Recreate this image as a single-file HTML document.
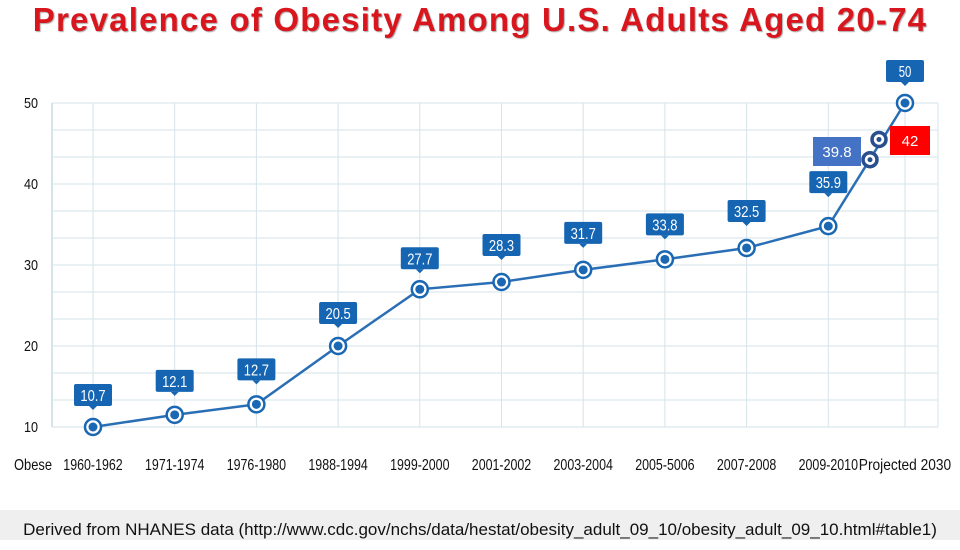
<!DOCTYPE html>
<html><head><meta charset="utf-8"><style>
body{margin:0;width:960px;height:540px;background:#fff;overflow:hidden;font-family:"Liberation Sans",sans-serif;position:relative}
#title{position:absolute;left:0;top:1px;width:960px;text-align:center;font-size:33px;letter-spacing:1.2px;font-weight:bold;color:#d9161d;text-shadow:1px 1px 1px #aaa}
#footer{position:absolute;left:0;top:510px;width:960px;height:30px;background:#efefef;text-align:center;font-size:17px;line-height:40px;color:#111}
svg{position:absolute;left:0;top:0}
</style></head><body>
<div id="title">Prevalence of Obesity Among U.S. Adults Aged 20-74</div>
<svg id="chart" width="960" height="540"></svg>
<div id="footer">Derived from NHANES data (http://www.cdc.gov/nchs/data/hestat/obesity_adult_09_10/obesity_adult_09_10.html#table1)</div>
<script>
const categories=["1960-1962","1971-1974","1976-1980","1988-1994","1999-2000","2001-2002","2003-2004","2005-5006","2007-2008","2009-2010","Projected 2030"];
const values=[10.0,11.5,12.8,20.0,27.0,27.9,29.4,30.7,32.1,34.8,50.0];
const labels=["10.7","12.1","12.7","20.5","27.7","28.3","31.7","33.8","32.5","35.9","50"];
const yTicks=[10,20,30,40,50];
const extraValues=[43.0,45.5];
const extraLabels=["39.8","42"];
const labelLift=[32,34,35,33,31,37,37,35,37,44,32];
const NS="http://www.w3.org/2000/svg";
const svg=document.getElementById('chart');
const x0=52,x1=938,y0=427,y1=103;
const colX=i=>i<10?93+i*81.7:905;
const Y=v=>y0-(v-10)/40*(y0-y1);
function mk(t,a,p){const e=document.createElementNS(NS,t);for(const k in a)e.setAttribute(k,a[k]);(p||svg).appendChild(e);return e;}
function condensed(s){return s.length*6.6;}
for(let v=10;v<=50.01;v+=10/3){const g=mk('line',{x1:x0,x2:x1,y1:Y(v),y2:Y(v),stroke:'#d5e3ea','stroke-width':1});

}
const gl=[x0,...categories.map((c,i)=>colX(i)),x1];
gl.forEach(x=>{const g=mk('line',{x1:x,x2:x,y1:y1,y2:y0,stroke:'#d5e3ea','stroke-width':x===x0?2:1});

});
yTicks.forEach(t=>{const e=mk('text',{x:24,y:Y(t)+5,'font-size':15,fill:'#111',textLength:14,lengthAdjust:'spacingAndGlyphs'});e.textContent=t;

});
const ob=mk('text',{x:33,y:470,'font-size':16,fill:'#111','text-anchor':'middle',textLength:38,lengthAdjust:'spacingAndGlyphs'});ob.textContent='Obese';


categories.forEach((c,i)=>{const e=mk('text',{x:colX(i),y:470,'font-size':16,fill:'#111','text-anchor':'middle',textLength:condensed(c),lengthAdjust:'spacingAndGlyphs'});e.textContent=c;

});
const pl=mk('polyline',{points:values.map((v,i)=>colX(i)+','+Y(v)).join(' '),fill:'none',stroke:'#2a6fb5','stroke-width':2.5});


values.forEach((v,i)=>{const cx=colX(i),cy=Y(v);
const o=mk('circle',{cx,cy,r:8,fill:'#fff',stroke:'#1a67b3','stroke-width':2.5});


mk('circle',{cx,cy,r:4.5,fill:'#1a67b3'});
const by=cy-labelLift[i];
const g=mk('g',{});


mk('rect',{x:cx-19,y:by-11,width:38,height:22,rx:2,fill:'#1565b3'},g);
mk('polygon',{points:`${cx-4},${by+11} ${cx+4},${by+11} ${cx},${by+15}`,fill:'#1565b3'},g);
const t=mk('text',{x:cx,y:by+6,'font-size':16,fill:'#fff','text-anchor':'middle',textLength:labels[i].length*6.3,lengthAdjust:'spacingAndGlyphs'},g);t.textContent=labels[i];});
const ex=[870,879];
extraValues.forEach((v,i)=>{const cx=ex[i],cy=Y(v);
const o=mk('circle',{cx,cy,r:7,fill:'#fff',stroke:'#2a4f8f','stroke-width':3.5});


mk('circle',{cx,cy,r:2.5,fill:'#2a4f8f'});});
const b1=mk('rect',{x:813,y:137,width:48,height:29,fill:'#4472c4'});


const t1=mk('text',{x:837,y:157,'font-size':15,fill:'#fff','text-anchor':'middle'});t1.textContent=extraLabels[0];
const b2=mk('rect',{x:890,y:126,width:40,height:29,fill:'#f00'});


const t2=mk('text',{x:910,y:146,'font-size':15,fill:'#fff','text-anchor':'middle'});t2.textContent=extraLabels[1];
</script>
</body></html>
